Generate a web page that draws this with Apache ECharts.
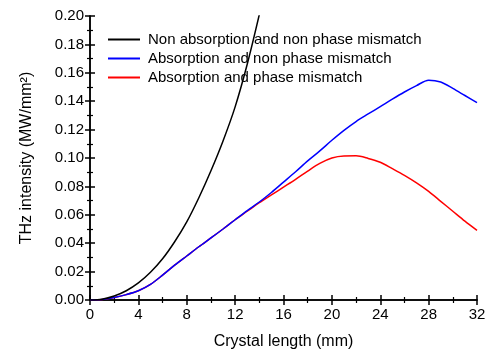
<!DOCTYPE html>
<html>
<head>
<meta charset="utf-8">
<script src="https://cdn.jsdelivr.net/npm/echarts@6/dist/echarts.min.js"></script>
<style>html,body{margin:0;padding:0;background:#fff}#c{width:491px;height:355px}</style>
</head>
<body>
<div id="c"></div>
<script>
var lengthMm = [0,1,2,3,4,5,6,7,8,9,10,11,12,13,14,15,16,17,18,19,20,21,22,23,24,25,26,27,28,29,30,31,32];
var blackLen = [0,1,2,3,4,5,6,7,8,9,10,11,12,13,14];
var nonAbsNonMis = [0,0.0006,0.0028,0.0065,0.012,0.0195,0.029,0.041,0.055,0.072,0.091,0.112,0.136,0.166,0.201];
var absNonMis = [0,0.0004,0.0018,0.0038,0.0065,0.011,0.0175,0.0245,0.031,0.0375,0.0437,0.050,0.0565,0.063,0.069,0.0757,0.083,0.0903,0.098,0.105,0.1125,0.1195,0.1257,0.131,0.1362,0.1415,0.1465,0.151,0.1548,0.1535,0.149,0.144,0.139];
var absMis = [0,0.0004,0.0018,0.0038,0.0065,0.011,0.0175,0.0245,0.031,0.0375,0.0437,0.050,0.0565,0.0625,0.0685,0.074,0.0795,0.085,0.0908,0.0962,0.1,0.1014,0.1015,0.0997,0.097,0.0925,0.0878,0.0825,0.0765,0.0695,0.0625,0.0555,0.049];
var seriesNames = ['Non absorption and non phase mismatch','Absorption and non phase mismatch','Absorption and phase mismatch'];

function pairs(xs, ys){ return xs.map(function(x,i){ return [x, ys[i]]; }); }

var font = 'Arial, "Liberation Sans", sans-serif';
var axisCommon = {
  axisLine:{show:true,lineStyle:{color:'#000',width:1.5}},
  axisTick:{show:true,inside:true,length:5,lineStyle:{color:'#000',width:1.5}},
  minorTick:{show:true,splitNumber:2,length:3,lineStyle:{color:'#000',width:1.2}},
  splitLine:{show:false}
};
function ax(extra){ var o = JSON.parse(JSON.stringify(axisCommon)); for (var k in extra) o[k]=extra[k]; return o; }

var chart = echarts.init(document.getElementById('c'));
chart.setOption({
  animation:false,
  backgroundColor:'#fff',
  grid:{left:90,right:14,top:16,bottom:53},
  legend:{
    orient:'vertical', left:102, top:27, itemWidth:32, itemHeight:14, itemGap:4,
    itemStyle:{opacity:0},
    textStyle:{fontFamily:font,fontSize:15,color:'#000',padding:[0,0,0,3]},
    data:seriesNames
  },
  xAxis:[
    ax({type:'value',min:0,max:32,interval:4,position:'bottom',
      name:'Crystal length (mm)',nameLocation:'middle',nameGap:34,
      nameTextStyle:{fontFamily:font,fontSize:16,color:'#000'},
      axisLabel:{fontFamily:font,fontSize:15,color:'#000',margin:7}}),
    ax({type:'value',min:0,max:32,interval:4,position:'top',axisLabel:{show:false}})
  ],
  yAxis:[
    ax({type:'value',min:0,max:0.2,interval:0.02,position:'left',
      name:'THz intensity (MW/mm²)',nameLocation:'middle',nameGap:55,
      nameTextStyle:{fontFamily:font,fontSize:16,color:'#000'},
      axisLabel:{fontFamily:font,fontSize:15,color:'#000',margin:6,formatter:function(v){return v.toFixed(2);}}}),
    ax({type:'value',min:0,max:0.2,interval:0.02,position:'right',axisLabel:{show:false}})
  ],
  series:[
    {name:seriesNames[0],type:'line',data:pairs(blackLen,nonAbsNonMis),symbol:'none',smooth:0.3,clip:true,
      lineStyle:{color:'#000',width:1.5},itemStyle:{color:'#000'},z:4},
    {name:seriesNames[1],type:'line',data:pairs(lengthMm,absNonMis),symbol:'none',smooth:0.3,clip:true,
      lineStyle:{color:'#0000ff',width:1.5},itemStyle:{color:'#0000ff'},z:3},
    {name:seriesNames[2],type:'line',data:pairs(lengthMm,absMis),symbol:'none',smooth:0.3,clip:true,
      lineStyle:{color:'#ff0000',width:1.5},itemStyle:{color:'#ff0000'},z:2}
  ]
});
</script>
</body>
</html>
